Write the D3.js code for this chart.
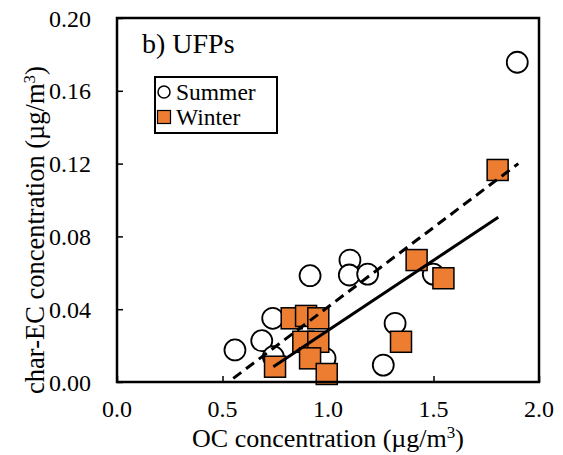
<!DOCTYPE html>
<html lang="en">
<head>
<meta charset="UTF-8">
<script src="https://d3js.org/d3.v7.min.js"></script>
<style>
  body { margin: 0; background: white; }
  text { font-family: "Liberation Serif", "Times New Roman", serif; fill: black; }
</style>
</head>
<body>
<div id="chart"></div>
<script>
// summer points (OC, char-EC)
const summerX = [1.897, 1.104, 0.915, 1.101, 1.188, 1.499, 0.738, 0.686, 0.559, 1.318, 1.262, 0.986, 0.741];
const summerY = [0.1757, 0.067, 0.0584, 0.0588, 0.0593, 0.0593, 0.035, 0.0227, 0.0176, 0.0322, 0.0093, 0.013, 0.0139];
// winter points
const winterX = [1.804, 1.420, 1.547, 1.346, 0.828, 0.896, 0.954, 0.883, 0.954, 0.915, 0.749, 0.994];
const winterY = [0.1165, 0.067, 0.057, 0.0221, 0.035, 0.0363, 0.035, 0.0221, 0.0221, 0.013, 0.0084, 0.0044];
// fit lines, endpoints
const summerFit = [[0.551, 0.002], [1.902, 0.120]];
const winterFit = [[0.741, 0.0084], [1.807, 0.0905]];

const xTicks = [0, 0.5, 1.0, 1.5, 2.0];
const yTicks = [0, 0.04, 0.08, 0.12, 0.16, 0.20];

const W = 563, H = 455;
const m = {left: 117, top: 18, right: 539, bottom: 382};
const orange = "#ED7D31";

const x = d3.scaleLinear().domain([0, 2]).range([m.left, m.right]);
const y = d3.scaleLinear().domain([0, 0.2]).range([m.bottom, m.top]);

const svg = d3.select("#chart").append("svg").attr("width", W).attr("height", H);

// axes with inward ticks
svg.append("g").attr("transform", "translate(0," + m.bottom + ")")
  .call(d3.axisTop(x).tickValues(xTicks).tickSize(6).tickFormat(""))
  .call(g => g.select(".domain").remove())
  .selectAll("line").attr("stroke", "black").attr("stroke-width", 1.5);
svg.append("g").attr("transform", "translate(" + m.left + ",0)")
  .call(d3.axisRight(y).tickValues(yTicks).tickSize(6).tickFormat(""))
  .call(g => g.select(".domain").remove())
  .selectAll("line").attr("stroke", "black").attr("stroke-width", 1.5);

// tick labels
svg.append("g").selectAll("text").data(xTicks).join("text")
  .attr("x", d => x(d)).attr("y", 417)
  .attr("text-anchor", "middle").style("font-size", "24px")
  .text(d => d3.format(".1f")(d));
svg.append("g").selectAll("text").data(yTicks).join("text")
  .attr("x", 91).attr("y", d => y(d) + 8.5)
  .attr("text-anchor", "end").style("font-size", "24px")
  .text(d => d3.format(".2f")(d));

// axis titles
const xt = svg.append("text").attr("x", 328).attr("y", 447)
  .attr("text-anchor", "middle").style("font-size", "26px");
xt.append("tspan").text("OC concentration (\u00b5g/m");
xt.append("tspan").attr("dy", -9).style("font-size", "17px").text("3");
xt.append("tspan").attr("dy", 9).text(")");

const yt = svg.append("text").attr("transform", "translate(43.5,230) rotate(-90)")
  .attr("text-anchor", "middle").style("font-size", "26.5px");
yt.append("tspan").text("char-EC concentration (\u00b5g/m");
yt.append("tspan").attr("dy", -9).style("font-size", "17px").text("3");
yt.append("tspan").attr("dy", 9).text(")");

// summer circles
const summer = summerX.map((v, i) => [v, summerY[i]]);
svg.append("g").selectAll("circle").data(summer).join("circle")
  .attr("cx", d => x(d[0])).attr("cy", d => y(d[1])).attr("r", 10.5)
  .attr("fill", "white").attr("stroke", "black").attr("stroke-width", 1.8);

// winter squares
const winter = winterX.map((v, i) => [v, winterY[i]]);
const sq = 21;
svg.append("g").selectAll("rect").data(winter).join("rect")
  .attr("x", d => x(d[0]) - sq / 2).attr("y", d => y(d[1]) - sq / 2)
  .attr("width", sq).attr("height", sq)
  .attr("fill", orange).attr("stroke", "black").attr("stroke-width", 1.5);

// fit lines
const line = d3.line().x(d => x(d[0])).y(d => y(d[1]));
svg.append("path").attr("d", line(summerFit)).attr("fill", "none")
  .attr("stroke", "black").attr("stroke-width", 3).attr("stroke-dasharray", "10,6");
svg.append("path").attr("d", line(winterFit)).attr("fill", "none")
  .attr("stroke", "black").attr("stroke-width", 3);

// frame
svg.append("rect").attr("x", m.left).attr("y", m.top)
  .attr("width", m.right - m.left).attr("height", m.bottom - m.top)
  .attr("fill", "none").attr("stroke", "black").attr("stroke-width", 2.5);

// panel label
svg.append("text").attr("x", 142).attr("y", 53).style("font-size", "28px").text("b) UFPs");

// legend
svg.append("rect").attr("x", 155).attr("y", 77).attr("width", 122).attr("height", 56)
  .attr("fill", "white").attr("stroke", "black").attr("stroke-width", 2);
svg.append("circle").attr("cx", 164).attr("cy", 92).attr("r", 6)
  .attr("fill", "white").attr("stroke", "black").attr("stroke-width", 1.5);
svg.append("rect").attr("x", 157.5).attr("y", 110.5).attr("width", 13).attr("height", 13)
  .attr("fill", orange).attr("stroke", "black").attr("stroke-width", 1.2);
svg.append("text").attr("x", 176).attr("y", 100).style("font-size", "23.5px").text("Summer");
svg.append("text").attr("x", 176).attr("y", 125).style("font-size", "23.5px").text("Winter");
</script>
</body>
</html>
